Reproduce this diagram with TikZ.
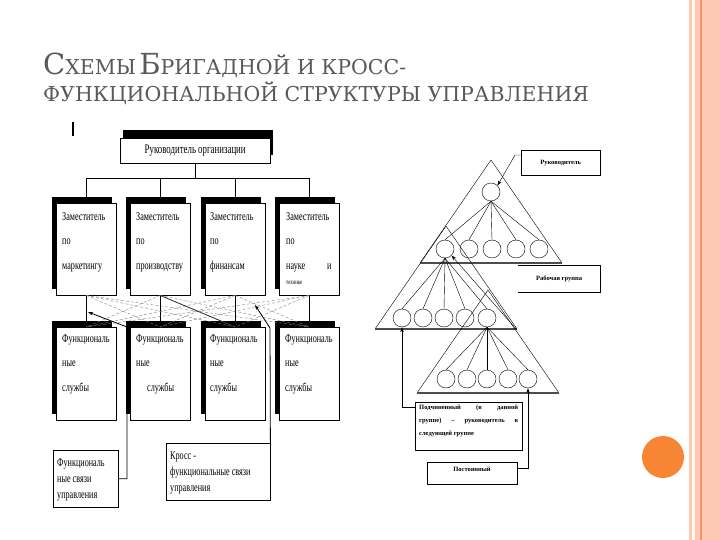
\documentclass[tikz,border=0pt]{standalone}
\usepackage{fontspec}
\setmainfont{Liberation Serif}
\newfontfamily\titlefont{DejaVu Serif}
\newfontfamily\boxfont[FakeStretch=0.68]{Liberation Serif}
\usetikzlibrary{shadows,arrows.meta}
\definecolor{titlegray}{RGB}{89,89,89}
\definecolor{peach}{RGB}{251,201,180}
\definecolor{peachline}{RGB}{242,150,105}
\definecolor{cream}{RGB}{254,244,232}
\definecolor{dotorange}{RGB}{247,134,52}
\newcommand\capbig[1]{{\fontsize{29}{30}\selectfont #1}}
\newcommand\capsmall[1]{{\fontsize{20.5}{30}\selectfont #1}}
\tikzset{
  blackshadow/.style={drop shadow={shadow xshift=-4pt, shadow yshift=6pt, fill=black, opacity=1}},
  unitbox/.style={draw, fill=white, anchor=north west, minimum width=60pt, minimum height=92pt, inner sep=0pt, blackshadow},
  unittext/.style={anchor=north west, align=left, inner sep=0pt, font=\boxfont\fontsize{12}{24.5}\selectfont},
  notebox/.style={draw, anchor=north west, inner sep=0pt},
  notetext/.style={anchor=north west, align=left, inner sep=0pt, font=\boxfont\fontsize{12}{16}\selectfont},
  member/.style={draw, circle, minimum size=18pt, inner sep=0pt},
  tagtext/.style={font=\bfseries\fontsize{6.5}{13}\selectfont, inner sep=0pt},
  crosslink/.style={gray, densely dashed},
  pointer/.style={-{Stealth[length=5pt,width=3.5pt]}}
}
\begin{document}
\begin{tikzpicture}[x=1pt, y=-1pt]
\useasboundingbox (0,0) rectangle (720,540);
% right edge decoration
\fill[peach] (689,0) rectangle (692,540);
\fill[cream] (692,0) rectangle (695,540);
\fill[peach] (695,0) rectangle (720,540);
\fill[peachline] (700,0) rectangle (702,540);
\fill[dotorange] (663,457) circle (21);
% title
\node[anchor=base west, inner sep=0pt, text=titlegray, font=\titlefont] (title1) at (43,75)
  {\capbig{С}\capsmall{ХЕМЫ} \capbig{Б}\capsmall{РИГАДНОЙ И КРОСС-}};
\node[anchor=base west, inner sep=0pt, text=titlegray, font=\titlefont] (title2) at (43,102)
  {\capsmall{ФУНКЦИОНАЛЬНОЙ СТРУКТУРЫ УПРАВЛЕНИЯ}};

% ---- brigade structure ----
\draw[line width=2pt] (73,122) -- (73,136);
\node[draw, fill=white, anchor=north west, minimum width=150pt, minimum height=25pt, inner sep=0pt,
  drop shadow={shadow xshift=3pt, shadow yshift=8pt, fill=black, opacity=1},
  font=\boxfont\fontsize{13}{14}\selectfont] (boss) at (120,138) {Руководитель организации};

\foreach \i/\x in {1/56, 2/130, 3/205, 4/279} {
  \node[unitbox] (dep\i) at (\x,203) {};
  \node[unitbox, minimum height=93pt] (srv\i) at (\x,327) {};
  \draw (boss.south) -- ++(0,15) -| (dep\i.north);
}
\node[unittext] (dep1t) at (62,212) {Заместитель\\по\\маркетингу};
\node[unittext] (dep2t) at (136,212) {Заместитель\\по\\производству};
\node[unittext] (dep3t) at (210,212) {Заместитель\\по\\финансам};
\node[unittext] (dep4t) at (286,212) {Заместитель\\по\\науке\hspace{22pt}и\\[-9pt]{\fontsize{7}{7}\selectfont технике}};
\node[unittext] (srv1t) at (62,334) {Функциональ\\ные\\службы};
\node[unittext] (srv2t) at (136,334) {Функциональ\\ные\\\hspace*{11pt}службы};
\node[unittext] (srv3t) at (210,334) {Функциональ\\ные\\службы};
\node[unittext] (srv4t) at (285,334) {Функциональ\\ные\\службы};

% links between deputies and services
\foreach \i in {1,...,4} {
  \foreach \j in {1,...,4} {
    \ifnum\i=\j \draw (dep\i.south) -- (srv\j.north);
    \else \draw[crosslink] (dep\i.south) -- (srv\j.north);
    \fi
  }
}
\draw[thick, black!80] (dep2.south) -- (srv3.north);

% legend boxes
\node[notebox, minimum width=65pt, minimum height=57pt] (flink) at (53,450) {};
\node[notetext] (flinkt) at (57,458) {Функциональ\\ные связи\\управления};
\node[notebox, minimum width=104pt, minimum height=57pt] (clink) at (166,443) {};
\node[notetext] (clinkt) at (170,451) {Кросс -\\функциональные связи\\управления};
\coordinate (fbend) at (127,327);
\coordinate (ftip) at (88,312);
\coordinate (cbend) at (270,328);
\coordinate (ctip) at (255,305);
\draw[thick, pointer] (flink.east) -| (fbend) -- (ftip);
\draw[thick, pointer] (clink.north east) -- (cbend) -- (ctip);

% ---- cross-functional teams ----
\foreach \ax/\ay in {491/160, 446/226, 488/290} {
  \draw (\ax,\ay) -- ++(-71,103) (\ax,\ay) -- ++(71,103);
  \draw[line width=1.5pt, black!70] (\ax,\ay) ++(-71,103) -- ++(142,0);
}
\node[member] (t1top) at (491,192) {};
\foreach \k/\x in {1/445, 2/469, 3/492, 4/516, 5/539} {
  \node[member] (t1c\k) at (\x,249) {};
  \draw (t1top.south) -- (t1c\k.north);
}
\foreach \k/\x in {1/402, 2/423, 3/444, 4/465, 5/487} {
  \node[member] (t2c\k) at (\x,318) {};
  \draw (t1c1.south) -- (t2c\k.north);
}
\foreach \k/\x in {1/446, 2/467, 3/487, 4/508, 5/528} {
  \node[member] (t3c\k) at (\x,379) {};
  \draw (t2c5.south) -- (t3c\k.north);
}
\coordinate (wcorner) at (517,330);
\draw[pointer] (wcorner) -- (t1c1.south east);

% labels
\node[notebox, minimum width=79pt, minimum height=25pt] (lead) at (521,150) {};
\node[tagtext] (leadt) at (lead.center) {Руководитель};
\coordinate (leadbend) at (515,155);
\draw[pointer] ([yshift=-5pt]lead.north west) -- (leadbend) -- (t1top.north east);
\node[anchor=north west, minimum width=82pt, minimum height=27pt, inner sep=0pt] (team) at (518,265) {};
\draw (team.north west) -- (team.north east) -- (team.south east) -- (team.south west);
\node[tagtext] (teamt) at (team.center) {Рабочая группа};
\node[notebox, minimum width=107pt, minimum height=48pt] (sub) at (415,402) {};
\node[tagtext, anchor=north west, text width=99pt, align=justify] (subt) at (419,405)
  {Подчиненный (в данной\linebreak группе) – руководитель в\linebreak следующей группе};
\draw[pointer] ([yshift=-5pt]sub.north west) -| (t2c1.south);
\node[notebox, minimum width=90pt, minimum height=22pt] (perm) at (427,462) {};
\node[tagtext] (permt) at (472,469) {Постоянный};
\draw[pointer] ([yshift=-6pt]perm.north east) -| (t3c5.south);
\end{tikzpicture}
\end{document}
